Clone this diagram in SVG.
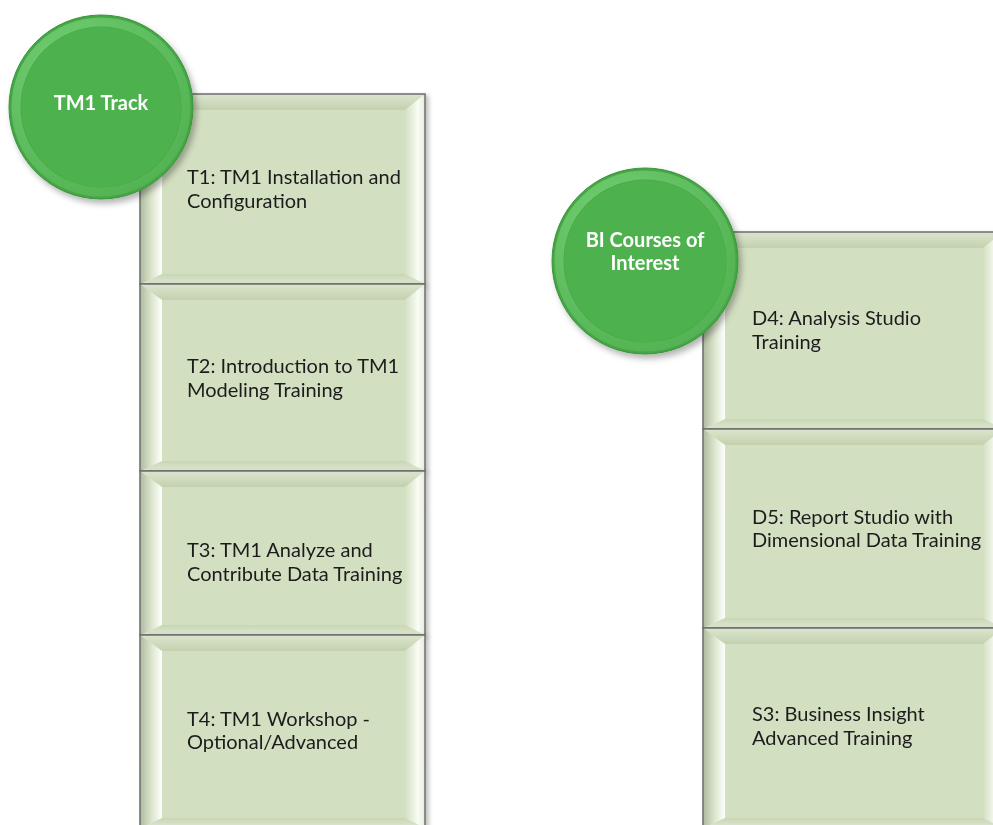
<svg xmlns="http://www.w3.org/2000/svg" width="993" height="825" viewBox="0 0 993 825">
  <style>
    .face { fill: #d3dfc1; }
    .edge { fill: none; stroke: #6e6e6e; stroke-width: 1.5; }
    .bt { fill: url(#gTop); }
    .bb { fill: url(#gBottom); }
    .bl { fill: url(#gLeft); }
    .br { fill: url(#gRight); }
    .lbl { font-family: Lato, "Open Sans", "Liberation Sans", sans-serif; font-size: 20px; fill: #1c1c1c; }
    .clbl { font-family: Lato, "Open Sans", "Liberation Sans", sans-serif; font-size: 20px; font-weight: bold; fill: #ffffff; text-anchor: middle; }
  </style>
  <defs>
    <linearGradient id="gTop" x1="0" y1="0" x2="0" y2="1">
      <stop offset="0" stop-color="#dbe5cd"/>
      <stop offset="1" stop-color="#c3d1af"/>
    </linearGradient>
    <linearGradient id="gBottom" x1="0" y1="0" x2="0" y2="1">
      <stop offset="0" stop-color="#c8d6b4"/>
      <stop offset="1" stop-color="#dfe8d3"/>
    </linearGradient>
    <linearGradient id="gLeft" x1="0" y1="0" x2="1" y2="0">
      <stop offset="0" stop-color="#aeba9f"/>
      <stop offset="0.55" stop-color="#dde7cf"/>
      <stop offset="1" stop-color="#ffffff"/>
    </linearGradient>
    <linearGradient id="gRight" x1="0" y1="0" x2="1" y2="0">
      <stop offset="0" stop-color="#d3dfc1"/>
      <stop offset="0.65" stop-color="#f9fcf4"/>
      <stop offset="1" stop-color="#e6ebde"/>
    </linearGradient>
    <radialGradient id="gRing" cx="0.35" cy="0.3" r="0.8">
      <stop offset="0" stop-color="#74d074"/>
      <stop offset="1" stop-color="#52b252"/>
    </radialGradient>
    <filter id="boxShadow" x="-5%" y="-5%" width="115%" height="115%">
      <feDropShadow dx="3" dy="2" stdDeviation="2" flood-color="#000" flood-opacity="0.25"/>
    </filter>
    <filter id="circShadow" x="-15%" y="-15%" width="135%" height="135%">
      <feDropShadow dx="3" dy="4" stdDeviation="3" flood-color="#000" flood-opacity="0.3"/>
    </filter>
  </defs>

  <g id="connectors"/>

  <!-- Left column -->
  <g id="t1" filter="url(#boxShadow)">
    <rect class="face" x="140" y="94" width="285" height="190"/>
    <polygon class="bt" points="140,94 425,94 405,110 162,110"/>
    <polygon class="bb" points="140,284 425,284 405,274 162,274"/>
    <polygon class="bl" points="140,94 162,110 162,274 140,284"/>
    <polygon class="br" points="425,94 405,110 405,274 425,284"/>
    <rect class="edge" x="140" y="94" width="285" height="190"/>
    <text class="lbl" x="187" y="184">T1: TM1 Installation and</text>
    <text class="lbl" x="187" y="208">Configuration</text>
  </g>

  <g id="t2" filter="url(#boxShadow)">
    <rect class="face" x="140" y="284" width="285" height="187"/>
    <polygon class="bt" points="140,284 425,284 405,300 162,300"/>
    <polygon class="bb" points="140,471 425,471 405,461 162,461"/>
    <polygon class="bl" points="140,284 162,300 162,461 140,471"/>
    <polygon class="br" points="425,284 405,300 405,461 425,471"/>
    <rect class="edge" x="140" y="284" width="285" height="187"/>
    <text class="lbl" x="187" y="373">T2: Introduction to TM1</text>
    <text class="lbl" x="187" y="397">Modeling Training</text>
  </g>

  <g id="t3" filter="url(#boxShadow)">
    <rect class="face" x="140" y="471" width="285" height="164"/>
    <polygon class="bt" points="140,471 425,471 405,487 162,487"/>
    <polygon class="bb" points="140,635 425,635 405,625 162,625"/>
    <polygon class="bl" points="140,471 162,487 162,625 140,635"/>
    <polygon class="br" points="425,471 405,487 405,625 425,635"/>
    <rect class="edge" x="140" y="471" width="285" height="164"/>
    <text class="lbl" x="187" y="557">T3: TM1 Analyze and</text>
    <text class="lbl" x="187" y="581">Contribute Data Training</text>
  </g>

  <g id="t4" filter="url(#boxShadow)">
    <rect class="face" x="140" y="635" width="285" height="193"/>
    <polygon class="bt" points="140,635 425,635 405,651 162,651"/>
    <polygon class="bb" points="140,828 425,828 405,818 162,818"/>
    <polygon class="bl" points="140,635 162,651 162,818 140,828"/>
    <polygon class="br" points="425,635 405,651 405,818 425,828"/>
    <rect class="edge" x="140" y="635" width="285" height="193"/>
    <text class="lbl" x="187" y="726">T4: TM1 Workshop -</text>
    <text class="lbl" x="187" y="749">Optional/Advanced</text>
  </g>

  <g id="tm1-track" filter="url(#circShadow)">
    <circle cx="101" cy="107" r="92" fill="#44a644" stroke="#3b943b" stroke-width="1"/>
    <circle cx="101" cy="107" r="85" fill="none" stroke="url(#gRing)" stroke-width="9"/>
    <circle cx="101" cy="107" r="80" fill="#4db24d"/>
    <text class="clbl" x="101" y="110">TM1 Track</text>
  </g>

  <!-- Right column -->
  <g id="d4" filter="url(#boxShadow)">
    <rect class="face" x="703" y="232" width="300" height="197"/>
    <polygon class="bt" points="703,232 1003,232 983,248 725,248"/>
    <polygon class="bb" points="703,429 1003,429 983,419 725,419"/>
    <polygon class="bl" points="703,232 725,248 725,419 703,429"/>
    <polygon class="br" points="1003,232 983,248 983,419 1003,429"/>
    <rect class="edge" x="703" y="232" width="300" height="197"/>
    <text class="lbl" x="752" y="325">D4: Analysis Studio</text>
    <text class="lbl" x="752" y="349">Training</text>
  </g>

  <g id="d5" filter="url(#boxShadow)">
    <rect class="face" x="703" y="429" width="300" height="199"/>
    <polygon class="bt" points="703,429 1003,429 983,445 725,445"/>
    <polygon class="bb" points="703,628 1003,628 983,618 725,618"/>
    <polygon class="bl" points="703,429 725,445 725,618 703,628"/>
    <polygon class="br" points="1003,429 983,445 983,618 1003,628"/>
    <rect class="edge" x="703" y="429" width="300" height="199"/>
    <text class="lbl" x="752" y="524">D5: Report Studio with</text>
    <text class="lbl" x="752" y="547">Dimensional Data Training</text>
  </g>

  <g id="s3" filter="url(#boxShadow)">
    <rect class="face" x="703" y="628" width="300" height="200"/>
    <polygon class="bt" points="703,628 1003,628 983,644 725,644"/>
    <polygon class="bb" points="703,828 1003,828 983,818 725,818"/>
    <polygon class="bl" points="703,628 725,644 725,818 703,828"/>
    <polygon class="br" points="1003,628 983,644 983,818 1003,828"/>
    <rect class="edge" x="703" y="628" width="300" height="200"/>
    <text class="lbl" x="752" y="721">S3: Business Insight</text>
    <text class="lbl" x="752" y="745">Advanced Training</text>
  </g>

  <g id="bi-courses" filter="url(#circShadow)">
    <circle cx="645" cy="261" r="93" fill="#44a644" stroke="#3b943b" stroke-width="1"/>
    <circle cx="645" cy="261" r="86" fill="none" stroke="url(#gRing)" stroke-width="9"/>
    <circle cx="645" cy="261" r="81" fill="#4db24d"/>
    <text class="clbl" x="645" y="247">BI Courses of</text>
    <text class="clbl" x="645" y="270">Interest</text>
  </g>
</svg>
